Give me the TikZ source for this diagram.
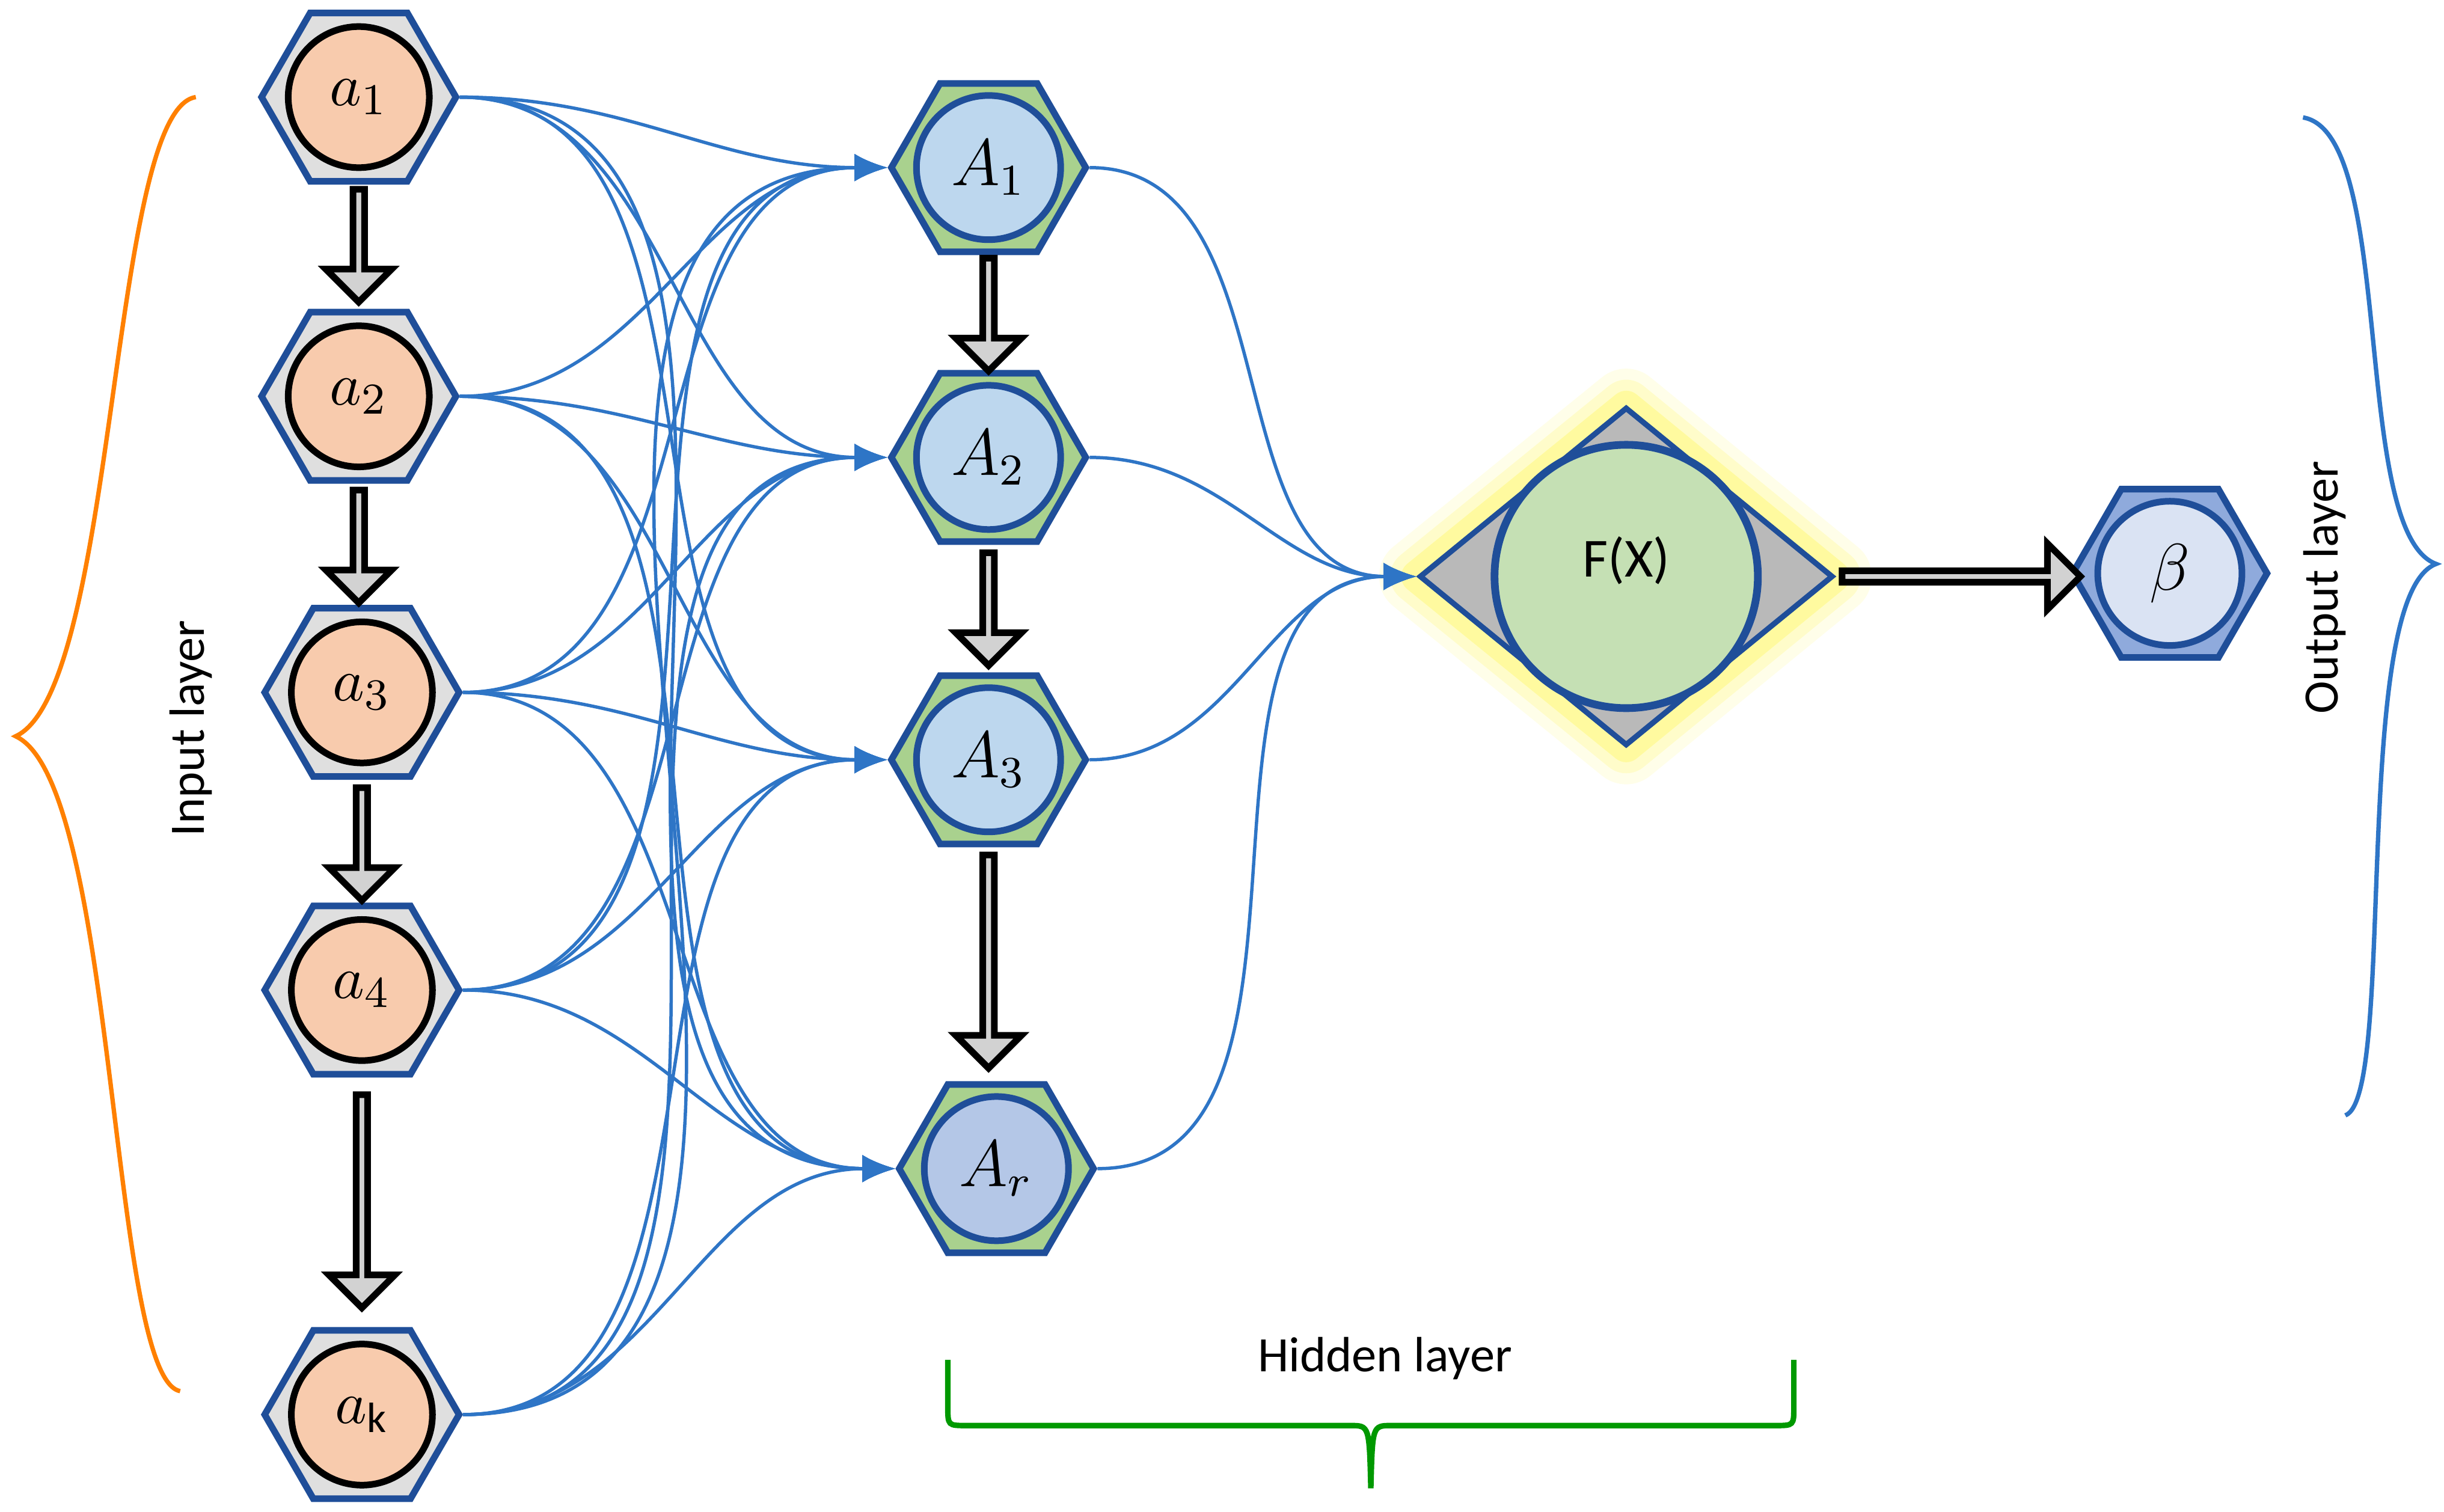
\documentclass[tikz,border=0pt]{standalone}
\usepackage{fontspec}
\setmainfont{Carlito}
\usetikzlibrary{shapes.geometric,shapes.arrows,arrows.meta}
\definecolor{hexblue}{HTML}{1F4E99}
\definecolor{peach}{HTML}{F8CBAD}
\definecolor{hgreen}{HTML}{A9D18E}
\definecolor{lblue}{HTML}{BDD7EE}
\definecolor{mblue}{HTML}{B4C7E7}
\definecolor{cgreen}{HTML}{C5E0B4}
\definecolor{bfill}{HTML}{8FAADC}
\definecolor{bcirc}{HTML}{DAE3F3}
\definecolor{link}{HTML}{2E75C6}
\begin{document}
\begin{tikzpicture}[x=0.01cm,y=-0.01cm,
  hex/.style={regular polygon,regular polygon sides=6,minimum size=1.24cm,inner sep=0,draw=hexblue,line width=1.2pt},
  ihex/.style={hex,fill=gray!25},
  ohex/.style={hex,fill=hgreen},
  icirc/.style={circle,minimum size=0.9cm,inner sep=0,draw=black,line width=1.2pt,fill=peach,font=\fontsize{11}{12}\selectfont},
  ocirc/.style={circle,minimum size=0.92cm,inner sep=0,draw=hexblue,line width=1.2pt,fill=lblue,font=\fontsize{12}{13}\selectfont},
  blk/.style={single arrow,draw=black,line width=1.2pt,fill=gray!35,inner sep=0,minimum width=0.42cm,single arrow head extend=0.1cm,single arrow head indent=0pt},
  lnk/.style={draw=link,line width=0.6pt,-{Latex[length=6pt,width=5pt]}},
  lbl/.style={font=\fontsize{9}{10}\selectfont}]
\useasboundingbox (0,0) rectangle (1560,965);
% input nodes
\foreach \n/\x/\y/\t in {1/229/62/a_1,2/229/253/a_2,3/231/442/a_3,4/231/632/a_4,k/231/903/a_{\mathrm{k}}}{
  \node[ihex] (ha\n) at (\x,\y) {};
  \node[icirc] (a\n) at (\x,\y) {$\t$};
}
% hidden nodes
\foreach \n/\x/\y/\t in {1/631/107/A_1,2/631/292/A_2,3/631/485/A_3}{
  \node[ohex] (hA\n) at (\x,\y) {};
  \node[ocirc] (A\n) at (\x,\y) {$\t$};
}
\node[ohex] (hAr) at (636,746) {};
\node[ocirc,fill=mblue] (Ar) at (636,746) {$A_r$};
% diamond
\foreach \w/\o in {14/0.12,10/0.2,6/0.35}{
  \draw[yellow!70,line width=\w pt,opacity=\o,line join=round] (905,368)--(1038,260)--(1170,368)--(1038,476)--cycle;}
\node[diamond,draw=hexblue,line width=1pt,fill=gray!55,minimum width=2.64cm,minimum height=2.16cm,inner sep=0] (D) at (1038,368) {};
\node[circle,draw=hexblue,line width=1.4pt,fill=cgreen,minimum size=1.68cm,inner sep=0,font=\fontsize{10}{11}\selectfont] (F) at (1038,368) {\raisebox{0.25cm}{F(X)}};
% beta
\node[hex,fill=bfill] (hB) at (1385,366) {};
\node[ocirc,fill=bcirc] (B) at (1385,366) {$\beta$};
% block arrows
\node[blk,rotate=-90,minimum height=0.72cm] (k1) at (229,155) {};
\node[blk,rotate=-90,minimum height=0.72cm] (k2) at (229,347) {};
\node[blk,rotate=-90,minimum height=0.72cm] (k3) at (231,537) {};
\node[blk,rotate=-90,minimum height=1.36cm] (k4) at (231,765) {};
\node[blk,rotate=-90,minimum height=0.72cm] (k5) at (631,199) {};
\node[blk,rotate=-90,minimum height=0.72cm] (k6) at (631,387) {};
\node[blk,rotate=-90,minimum height=1.36cm] (k7) at (631,612) {};
\node[blk,minimum height=1.52cm] (k8) at (1250,368) {};
% links
\foreach \i in {1,2,3,4,k}{
  \foreach \j/\dy in {1/-3,2/0,3/0,r/0}{
    \draw[lnk] (ha\i.east) to[out=0,in=180] (hA\j.west);
  }
}
\foreach \j in {1,2,3,r}{
  \draw[lnk] (hA\j.east) to[out=0,in=180] (D.west);
}
% braces
\draw[draw=orange,line width=0.8pt] (125,62) .. controls (70,70) and (75,440) .. (10,470) .. controls (75,500) and (70,880) .. (115,888);
\node[lbl,rotate=90] (il) at (122,465) {Input layer};
\draw[draw=link,line width=0.8pt] (1470,75) .. controls (1530,85) and (1500,340) .. (1555,360) .. controls (1500,380) and (1530,700) .. (1497,712);
\node[lbl,rotate=90] (ol) at (1484,375) {Output layer};
\draw[draw=green!60!black,line width=1pt] (605,868) -- (605,898) .. controls (605,910) .. (617,910) -- (862,910) .. controls (874,910) .. (875,950) .. controls (876,910) .. (888,910) -- (1133,910) .. controls (1145,910) .. (1145,898) -- (1145,868);
\node[lbl] (hl) at (884,867) {Hidden layer};
\end{tikzpicture}
\end{document}
